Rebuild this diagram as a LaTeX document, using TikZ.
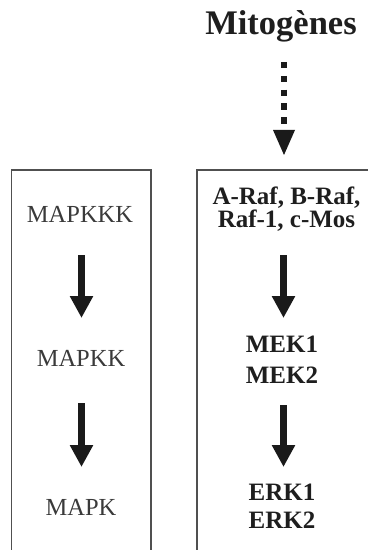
\documentclass[tikz,border=0pt]{standalone}
\usepackage{fontspec}
\setmainfont{Liberation Serif}
\usetikzlibrary{arrows.meta}
\definecolor{boxline}{HTML}{505050}
\definecolor{lefttext}{HTML}{3A3A3A}
\definecolor{righttext}{HTML}{1E1E1E}
\definecolor{arrowcol}{HTML}{1A1A1A}
\tikzset{
  lbl/.style={anchor=base,inner sep=0pt,text=lefttext,font=\fontsize{24.5bp}{26bp}\selectfont},
  rbl/.style={anchor=base,inner sep=0pt,text=righttext,font=\fontsize{25bp}{27bp}\selectfont\bfseries},
  ttl/.style={anchor=base,inner sep=0pt,text=righttext,font=\fontsize{34.5bp}{36bp}\selectfont\bfseries},
  boxedge/.style={draw=boxline,line width=1.3bp},
  bigarrow/.style={draw=arrowcol,line width=6.5bp,-{Triangle[width=22bp,length=22bp]},shorten >=0pt},
  dotarrow/.style={draw=arrowcol,line width=6.5bp,dash pattern=on 6.5bp off 7.3bp},
  headonly/.style={draw=none,fill=arrowcol}
}
\begin{document}
\begin{tikzpicture}[x=1bp,y=-1bp]
\useasboundingbox (0,0) rectangle (368,550);
% boxes (open at bottom)
\draw[boxedge] (11.5,550) -- (11.5,170) -- (151,170) -- (151,550);
\draw[boxedge] (197,550) -- (197,170) -- (368,170);
% title
\node[ttl] (mito) at (281,35) {Mitogènes};
% dotted arrow
\coordinate (d0) at (284,62);
\coordinate (d1) at (284,124);
\coordinate (h1) at (284,155);
\draw[dotarrow] (d0) -- (d1);
\fill[headonly] (273,130) -- (295,130) -- (h1) -- cycle;
% left column
\node[lbl] (mkkk) at (80,222) {MAPKKK};
\node[lbl] (mkk) at (81,366) {MAPKK};
\node[lbl] (mk) at (81,515) {MAPK};
\coordinate (la0) at (81.5,255);
\coordinate (la1) at (81.5,318);
\coordinate (lb0) at (81.5,403);
\coordinate (lb1) at (81.5,467);
\draw[bigarrow] (la0) -- (la1);
\draw[bigarrow] (lb0) -- (lb1);
% right column
\node[rbl,align=center,font=\fontsize{25bp}{22.5bp}\selectfont\bfseries] (raf) at (286.5,227) {A-Raf, B-Raf,\\Raf-1, c-Mos};
\node[rbl] (mek1) at (282,352) {MEK1};
\node[rbl] (mek2) at (282,383) {MEK2};
\node[rbl] (erk1) at (282,500) {ERK1};
\node[rbl] (erk2) at (282,528) {ERK2};
\coordinate (ra0) at (283.5,255);
\coordinate (ra1) at (283.5,318);
\coordinate (rb0) at (283.5,405);
\coordinate (rb1) at (283.5,467);
\draw[bigarrow] (ra0) -- (ra1);
\draw[bigarrow] (rb0) -- (rb1);
\end{tikzpicture}
\end{document}
